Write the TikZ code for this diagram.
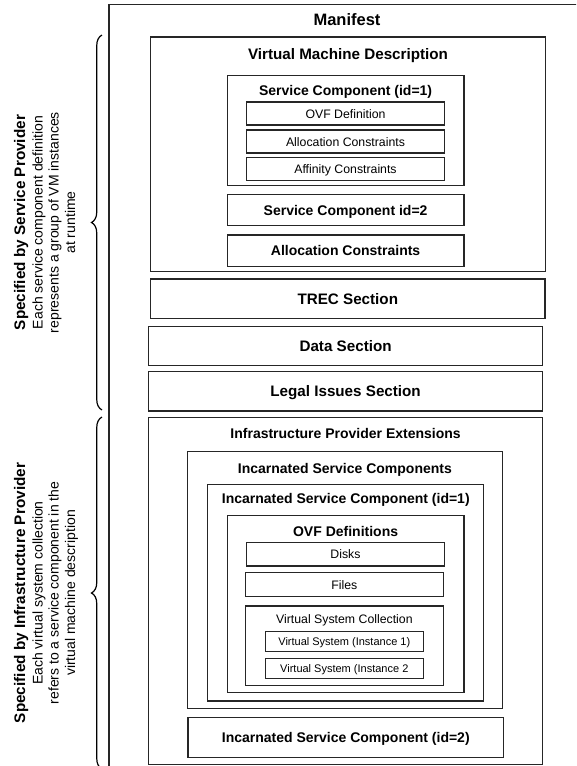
\documentclass[tikz,border=0pt]{standalone}
\usepackage{fontspec}
\setmainfont{Liberation Sans}
\usetikzlibrary{fit,decorations.pathreplacing}

\tikzset{
  box/.style={draw=black!85, line width=1.2pt, inner sep=0pt},
  head/.style={anchor=base, inner sep=0pt, font=\fontsize{16.5}{18}\selectfont\bfseries},
  big/.style={anchor=base, inner sep=0pt, font=\fontsize{15.2}{17}\selectfont\bfseries},
  ttl/.style={anchor=base, inner sep=0pt, font=\fontsize{14}{16}\selectfont\bfseries},
  sml/.style={anchor=base, inner sep=0pt, font=\fontsize{12.3}{14}\selectfont},
  tny/.style={anchor=base, inner sep=0pt, font=\fontsize{11}{13}\selectfont},
  side/.style={anchor=base, inner sep=0pt, rotate=90, font=\fontsize{14}{16}\selectfont},
  sidehead/.style={anchor=base, inner sep=0pt, rotate=90, font=\fontsize{15.3}{17}\selectfont\bfseries},
  curly/.style={decorate, decoration={brace, amplitude=10.5pt}, draw=black, line width=1.2pt}
}

\begin{document}
\begin{tikzpicture}[x=1pt, y=-1pt]
  \useasboundingbox (0,0) rectangle (576,766);
  \clip (0,0) rectangle (576,766);

  % outer manifest frame (runs past the right and bottom edges)
  \node[box, fit={(108.9,4.4) (585,790)}] (manifest) {};
  \node[head] (manifest-t) at (347,25) {Manifest};

  % virtual machine description
  \node[box, fit={(150.6,37) (545.4,271.7)}] (vmd) {};
  \node[big] (vmd-t) at (348,59.3) {Virtual Machine Description};

  \node[box, fit={(227.2,75.7) (464,185.7)}] (sc1) {};
  \node[ttl] (sc1-t) at (345.6,95) {Service Component (id=1)};
  \node[box, fit={(246.7,102) (444.2,125)}] (ovf) {};
  \node[sml] (ovf-t) at (345.5,118.5) {OVF Definition};
  \node[box, fit={(246.7,130) (444.2,153)}] (alloc1) {};
  \node[sml] (alloc1-t) at (345.5,146) {Allocation Constraints};
  \node[box, fit={(246.7,157.7) (444.2,180.7)}] (aff) {};
  \node[sml] (aff-t) at (345.5,173.6) {Affinity Constraints};

  \node[box, fit={(227.2,194.3) (464,225.3)}] (sc2) {};
  \node[ttl] (sc2-t) at (345.6,215.3) {Service Component id=2};
  \node[box, fit={(227.2,235) (464,266.7)}] (alloc2) {};
  \node[ttl] (alloc2-t) at (345.6,255.8) {Allocation Constraints};

  % plain sections
  \node[box, fit={(150.6,279) (545,318.3)}] (trec) {};
  \node[big] (trec-t) at (347.8,304) {TREC Section};
  \node[box, fit={(148.4,326.7) (542.8,365.7)}] (data) {};
  \node[big] (data-t) at (345.6,351.2) {Data Section};
  \node[box, fit={(148.4,371.7) (542.8,411)}] (legal) {};
  \node[big] (legal-t) at (345.6,396.5) {Legal Issues Section};

  % infrastructure provider extensions
  \node[box, fit={(148.4,417.3) (542.8,764.3)}] (ipe) {};
  \node[ttl] (ipe-t) at (345.6,438.3) {Infrastructure Provider Extensions};
  \node[box, fit={(187.3,451.7) (502.5,708.3)}] (iscs) {};
  \node[ttl] (iscs-t) at (344.9,473.3) {Incarnated Service Components};
  \node[box, fit={(207.8,484.3) (483.8,701)}] (isc1) {};
  \node[ttl] (isc1-t) at (345.8,503.3) {Incarnated Service Component (id=1)};
  \node[box, fit={(227.2,515.3) (464,692.7)}] (ovfs) {};
  \node[ttl] (ovfs-t) at (345.6,536) {OVF Definitions};
  \node[box, fit={(246.7,542.3) (444.2,566)}] (disks) {};
  \node[sml] (disks-t) at (345.5,558.6) {Disks};
  \node[box, fit={(245.6,572.7) (443.1,596.7)}] (files) {};
  \node[sml] (files-t) at (344.4,589) {Files};
  \node[box, fit={(245.6,606) (443.1,685.3)}] (vsc) {};
  \node[sml] (vsc-t) at (344.4,623.3) {Virtual System Collection};
  \node[box, fit={(265.3,631.7) (423.3,651.7)}] (vs1) {};
  \node[tny] (vs1-t) at (344.3,645.6) {Virtual System (Instance 1)};
  \node[box, fit={(265.3,658.3) (423.3,678.7)}] (vs2) {};
  \node[tny] (vs2-t) at (344.3,672.4) {Virtual System (Instance 2};
  \node[box, fit={(188,717.7) (503.6,757.3)}] (isc2) {};
  \node[ttl] (isc2-t) at (345.8,742.5) {Incarnated Service Component (id=2)};

  % braces on the left
  \coordinate (sp-bot) at (102,410);
  \coordinate (sp-top) at (102,35);
  \draw[curly] (sp-bot) -- (sp-top);
  \coordinate (ip-bot) at (102,769);
  \coordinate (ip-top) at (102,417);
  \draw[curly] (ip-bot) -- (ip-top);

  % side notes
  \node[sidehead] (sp-1) at (25,222.5) {Specified by Service Provider};
  \node[side] (sp-2) at (42.5,222.5) {Each service component definition};
  \node[side] (sp-3) at (58.5,222.5) {represents a group of VM instances};
  \node[side] (sp-4) at (75,222.5) {at runtime};

  \node[sidehead] (ip-1) at (25,593) {Specified by Infrastructure Provider};
  \node[side] (ip-2) at (42.5,593) {Each virtual system collection};
  \node[side] (ip-3) at (58.5,593) {refers to a service component in the};
  \node[side] (ip-4) at (75,593) {virtual machine description};
\end{tikzpicture}
\end{document}
